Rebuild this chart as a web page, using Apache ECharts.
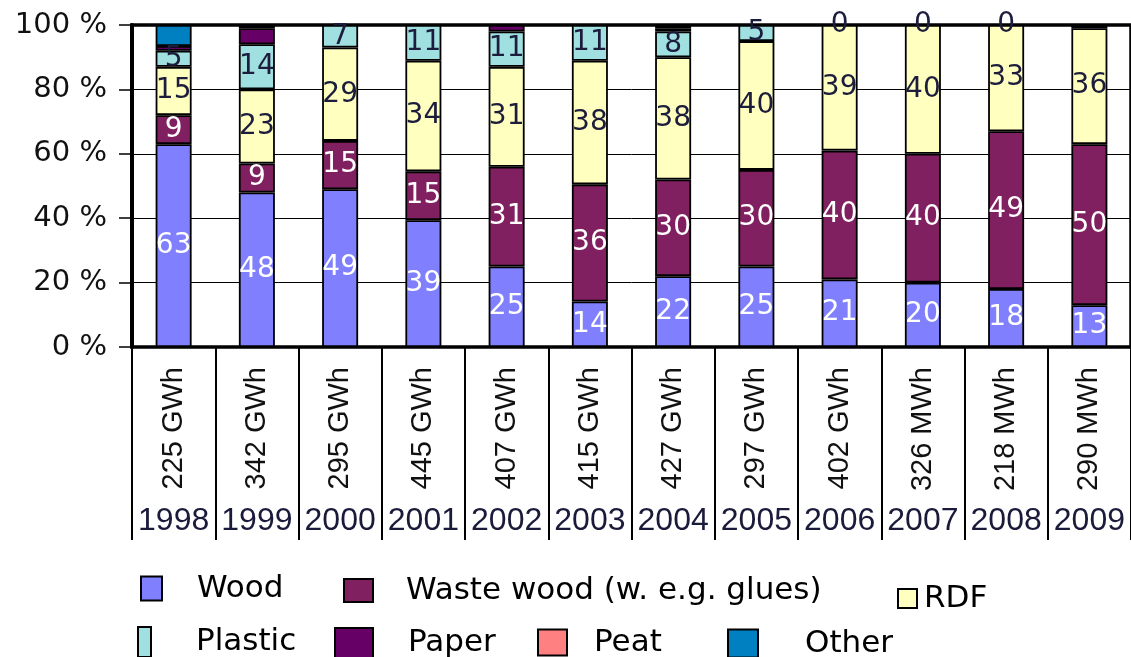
<!DOCTYPE html>
<html>
<head>
<meta charset="utf-8">
<script src="https://cdn.jsdelivr.net/npm/echarts@6/dist/echarts.min.js"></script>
<style>
html,body{margin:0;padding:0;background:#fff;}
#chart{width:1131px;height:657px;}
</style>
</head>
<body>
<div id="chart"></div>
<script>
// ---- data (shares in %, as labelled on the chart) ----
const years = ['1998','1999','2000','2001','2002','2003','2004','2005','2006','2007','2008','2009'];
const energy = ['225 GWh','342 GWh','295 GWh','445 GWh','407 GWh','415 GWh','427 GWh','297 GWh','402 GWh','326 MWh','218 MWh','290 MWh'];
const wood    = [63, 48, 49, 39, 25, 14, 22, 25, 21, 20, 18, 13];
const waste   = [9, 9, 15, 15, 31, 36, 30, 30, 40, 40, 49, 50];
const rdf     = [15, 23, 29, 34, 31, 38, 38, 40, 39, 40, 33, 36];
const plastic = [5, 14, 7, 11, 11, 11, 8, 5, 0, 0, 0, null];
const paper   = [1.5, 5, null, null, 2, null, 1, null, null, null, null, null];
const peat    = [null, null, null, null, null, null, 1, null, null, null, null, 1];
const other   = [6.5, 1, null, null, null, null, null, null, null, null, null, null];

const seriesDefs = [
  {name:'Wood', data:wood, color:'#8080FF', label:true, lc:'#ffffff'},
  {name:'Waste wood (w. e.g. glues)', data:waste, color:'#802060', label:true, lc:'#ffffff'},
  {name:'RDF', data:rdf, color:'#FFFFC0', label:true, lc:'#1c1c3c'},
  {name:'Plastic', data:plastic, color:'#A0E0E0', label:true, lc:'#1c1c3c'},
  {name:'Paper', data:paper, color:'#660066', label:false},
  {name:'Peat', data:peat, color:'#FF8080', label:false},
  {name:'Other', data:other, color:'#0080C0', label:false}
];

// 100% stacked: normalise each column
const totals = years.map((_, i) => seriesDefs.reduce((s, d) => s + (d.data[i] || 0), 0));

const series = seriesDefs.map(d => ({
  name: d.name,
  type: 'bar',
  stack: 'all',
  barWidth: 36,
  xAxisIndex: 0,
  itemStyle: {color: d.color, borderColor: '#000', borderWidth: 1.8},
  label: {
    show: d.label,
    position: 'inside',
    fontFamily: 'DejaVu Sans',
    fontSize: 28,
    color: d.lc,
    formatter: p => (p.data && p.data.raw != null) ? String(p.data.raw) : ''
  },
  data: d.data.map((v, i) => v == null ? {value: null, raw: null} : {value: v / totals[i] * 100, raw: v})
}));

const legendPos = [
  {name:'Wood', left:140, top:573, w:21, h:24, pad:30},
  {name:'Waste wood (w. e.g. glues)', left:343, top:575, w:29, h:23, pad:28},
  {name:'RDF', left:897, top:583, w:19, h:19, pad:2},
  {name:'Plastic', left:137, top:626, w:13, h:30, pad:40},
  {name:'Paper', left:334, top:627, w:38, h:30, pad:30},
  {name:'Peat', left:537, top:627, w:29, h:26, pad:22},
  {name:'Other', left:727, top:628, w:30, h:28, pad:42}
];

const legends = legendPos.map(l => ({
  data: [l.name],
  left: l.left,
  top: l.top,
  padding: 0,
  itemWidth: l.w,
  itemHeight: l.h,
  icon: 'rect',
  selectedMode: false,
  textStyle: {fontFamily: 'DejaVu Sans', fontSize: 31, color: '#000', padding: [0, 0, 0, l.pad]}
}));

const chart = echarts.init(document.getElementById('chart'), null, {renderer: 'canvas'});
chart.setOption({
  animation: false,
  backgroundColor: '#fff',
  grid: {left: 132, top: 25, width: 1003, height: 322, show: true, borderColor: '#000', borderWidth: 3.5, backgroundColor: 'transparent'},
  legend: legends,
  xAxis: [
    {
      type: 'category',
      data: energy,
      position: 'bottom',
      axisLine: {show: false},
      axisTick: {show: true, length: 193, lineStyle: {color: '#000', width: 2}},
      axisLabel: {interval: 0, rotate: 90, margin: 20, fontFamily: 'Liberation Sans', fontSize: 29, color: '#111'},
      splitLine: {show: false}
    },
    {
      type: 'category',
      data: years,
      position: 'bottom',
      axisLine: {show: false},
      axisTick: {show: false},
      axisLabel: {interval: 0, margin: 158, fontFamily: 'Liberation Sans', fontSize: 32, color: '#1a1a3a'},
      splitLine: {show: false}
    }
  ],
  yAxis: {
    type: 'value',
    min: 0,
    max: 100,
    interval: 20,
    axisLine: {show: true, lineStyle: {color: '#000', width: 4}},
    axisTick: {show: true, length: 13, lineStyle: {color: '#000', width: 1.5}},
    axisLabel: {formatter: '{value} %', margin: 25, fontFamily: 'DejaVu Sans', fontSize: 29, color: '#111'},
    splitLine: {show: true, lineStyle: {color: '#000', width: 1}}
  },
  series: series
});
</script>
</body>
</html>
